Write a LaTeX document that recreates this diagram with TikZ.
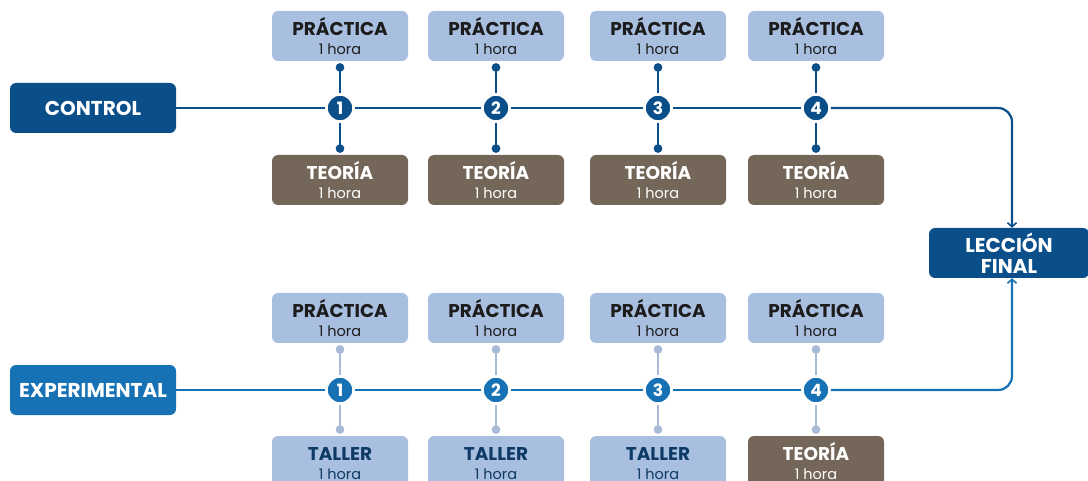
\documentclass[tikz,border=0pt]{standalone}
\usepackage{fontspec}
\setmainfont{Poppins}[UprightFont=*-Regular,BoldFont=*-Bold]
\usetikzlibrary{arrows.meta}

\definecolor{ctrlblue}{HTML}{0B4F8A}
\definecolor{expblue}{HTML}{1672B4}
\definecolor{lightbox}{HTML}{A9BFE0}
\definecolor{lightstem}{HTML}{A9BAD6}
\definecolor{brownbox}{HTML}{746658}
\definecolor{navytext}{HTML}{0E3A66}
\definecolor{darktext}{HTML}{1C1C1C}

\tikzset{
  group/.style={rounded corners=6pt, minimum width=166pt, minimum height=50pt,
    text=white, font=\fontsize{20}{21}\selectfont\bfseries, align=center},
  session/.style={rounded corners=6pt, minimum width=136pt, minimum height=50pt,
    inner sep=0pt, align=center, font=\fontsize{14.5}{19}\selectfont},
  practica/.style={session, fill=lightbox, text=darktext},
  teoria/.style={session, fill=brownbox, text=white},
  taller/.style={session, fill=lightbox, text=navytext},
  stepnum/.style={circle, draw=white, line width=2.5pt, minimum size=27pt,
    inner sep=0pt, text=white, font=\fontsize{17}{17}\selectfont\bfseries},
  mainline/.style={line width=2.2pt},
  stem/.style={line width=2.6pt, -{Circle[length=8.5pt]}, shorten >=2pt},
  tofinal/.style={mainline, rounded corners=14pt, -{Straight Barb[length=4pt,width=9pt,line width=1.6pt]}}
}
\newcommand{\sess}[1]{{\fontsize{18.5}{19}\selectfont\bfseries\vphantom{ÁÍ}#1}\\1 hora}

\begin{document}
\begin{tikzpicture}[x=1pt,y=-1pt]
  \useasboundingbox (0,0) rectangle (1088,481);

  % grupos
  \node[group, fill=ctrlblue] (control) at (93,108) {CONTROL};
  \node[group, fill=expblue] (experimental) at (93,390) {EXPERIMENTAL};
  \node[group, fill=ctrlblue, minimum width=160pt] (final) at (1009,253) {LECCIÓN\\FINAL};

  % sesiones del grupo control
  \foreach \i/\x in {1/340,2/496,3/658,4/816}{
    \node[practica] (cp\i) at (\x,36) {\sess{PRÁCTICA}};
    \node[teoria] (ct\i) at (\x,180) {\sess{TEORÍA}};
    \node[stepnum, fill=ctrlblue] (c\i) at (\x,108) {\i};
    \draw[stem, ctrlblue] (c\i) -- (cp\i);
    \draw[stem, ctrlblue] (c\i) -- (ct\i);
  }

  % sesiones del grupo experimental
  \foreach \i/\x in {1/340,2/496,3/658,4/816}{
    \node[practica] (ep\i) at (\x,318) {\sess{PRÁCTICA}};
    \node[stepnum, fill=expblue] (e\i) at (\x,390) {\i};
    \draw[stem, lightstem] (e\i) -- (ep\i);
  }
  \foreach \i/\x in {1/340,2/496,3/658}{
    \node[taller] (et\i) at (\x,461) {\sess{TALLER}};
    \draw[stem, lightstem] (e\i) -- (et\i);
  }
  \node[teoria] (et4) at (816,461) {\sess{TEORÍA}};
  \draw[stem, lightstem] (e4) -- (et4);

  % lineas de tiempo
  \draw[mainline, ctrlblue] (control) -- (c1) -- (c2) -- (c3) -- (c4);
  \draw[mainline, expblue] (experimental) -- (e1) -- (e2) -- (e3) -- (e4);
  \draw[tofinal, ctrlblue] (c4) -| ([xshift=3pt]final.north);
  \draw[tofinal, expblue] (e4) -| ([xshift=3pt]final.south);
\end{tikzpicture}
\end{document}
